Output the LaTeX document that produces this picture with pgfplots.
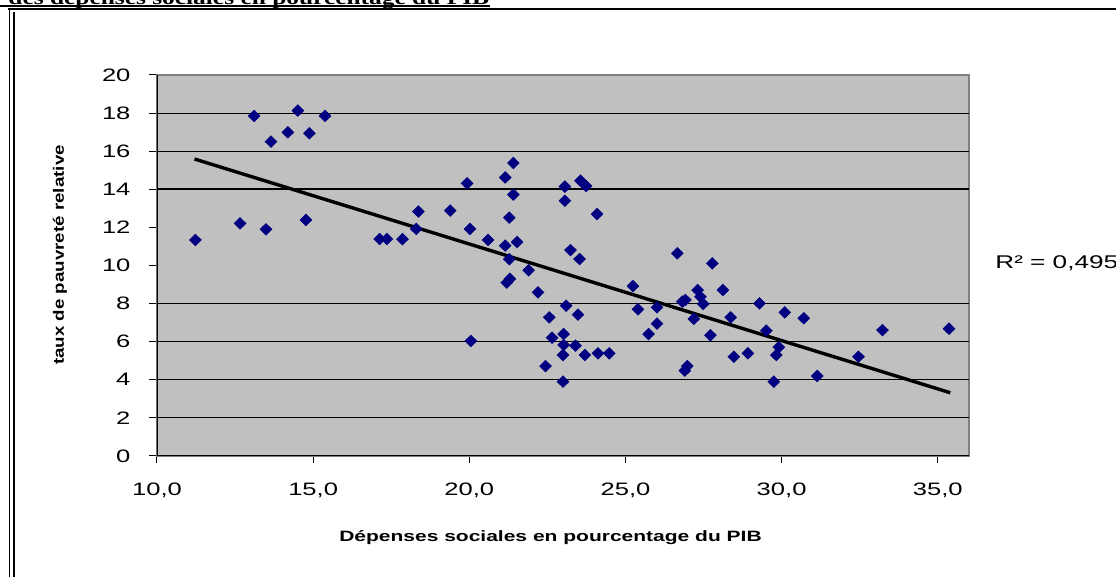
\documentclass[border=0pt]{standalone}
\usepackage{fontspec}
\setmainfont{Liberation Sans}
\newfontfamily\tickfont{Liberation Sans}[FakeStretch=1.42]
\newfontfamily\xlabfont{Liberation Sans}[FakeStretch=1.4]
\newfontfamily\ylabfont{Liberation Sans}[FakeStretch=1.25]
\newfontfamily\titlefont{Liberation Serif}[FakeStretch=1.27]
\usepackage{pgfplots}
\pgfplotsset{compat=1.18}
\definecolor{plotbg}{RGB}{192,192,192}
\definecolor{marknavy}{RGB}{0,0,128}
\definecolor{frame}{RGB}{128,128,128}

\begin{document}
\begin{tikzpicture}
\useasboundingbox (0,0) rectangle (558pt,288.5pt);
\clip (0,0) rectangle (558pt,288.5pt);

% page frame and heading (partly cut by the page top)
\node[anchor=base west, inner sep=0pt, font=\titlefont\bfseries\fontsize{10}{12}\selectfont]
  at (4pt,286.3pt) {des dépenses sociales en pourcentage du PIB};
\draw[line width=1pt] (0,285.3pt) -- (245pt,285.3pt);
\draw[line width=1pt] (4pt,283.8pt) -- (558pt,283.8pt);
\draw[line width=0.8pt] (4.75pt,283.8pt) -- (4.75pt,0);
\draw[line width=0.8pt] (6.9pt,282.4pt) -- (6.9pt,0);

\begin{axis}[
  scale only axis,
  width=406pt, height=190.5pt,
  at={(78.5pt,60.5pt)}, anchor=south west,
  xmin=10, xmax=36, ymin=0, ymax=20,
  xtick={10,15,...,35},
  ytick={0,2,...,20},
  tick pos=left,
  tick align=outside,
  major tick length=3.75pt,
  tick style={black, line width=0.5pt},
  axis line style={draw=frame, line width=0.6pt},
  axis background/.style={fill=plotbg},
  /pgf/number format/assume math mode=true,
  ticklabel style={font=\tickfont\fontsize{9}{10}\selectfont},
  xticklabel style={yshift=-6pt, /pgf/number format/.cd, fixed, fixed zerofill, precision=1, use comma},
  yticklabel style={xshift=-6pt},
  extra y ticks={2,4,6,8,16,18},
  extra y tick labels={},
  extra y tick style={grid=major, tick style={draw=none}},
  major grid style={black, line width=0.55pt},
  xlabel={Dépenses sociales en pourcentage du PIB},
  ylabel={taux de pauvreté relative},
  x label style={font=\xlabfont\bfseries\fontsize{7.5}{9}\selectfont,
    at={(axis description cs:0.4846,-0.2257)}, anchor=base},
  y label style={font=\ylabfont\bfseries\fontsize{7.5}{9}\selectfont,
    at={(axis description cs:-0.1195,0.5276)}, anchor=center},
]
\draw[black, line width=1pt] (axis cs:10,14) -- (axis cs:36,14);

\addplot[only marks, mark=diamond*, mark size=2.85pt,
  mark options={xscale=1.35, draw=marknavy, fill=marknavy}]
coordinates {
(11.23,11.34) (12.66,12.21) (13.11,17.85) (13.49,11.90) (13.65,16.50)
(14.19,16.99) (14.51,18.13) (14.77,12.39) (14.88,16.94) (15.38,17.85)
(17.13,11.39) (17.36,11.39) (17.86,11.38) (18.30,11.92) (18.37,12.83)
(19.39,12.88) (19.93,14.31) (20.02,11.92) (20.05,6.04) (20.60,11.34)
(21.15,14.62) (21.15,11.04) (21.28,12.51) (21.41,15.38) (21.41,13.72)
(21.53,11.23) (21.28,10.33) (21.20,9.10) (21.30,9.30) (21.90,9.75)
(22.20,8.59) (22.44,4.72) (22.56,7.28) (22.65,6.21) (23.02,6.40)
(23.02,5.83) (23.00,5.30) (23.00,3.90) (23.10,7.89) (23.06,14.14)
(23.06,13.40) (23.24,10.81) (23.40,5.79) (23.48,7.42) (23.53,10.34)
(23.56,14.45) (23.74,14.17) (23.70,5.30) (24.09,12.70) (24.12,5.39)
(24.48,5.39) (25.24,8.92) (25.40,7.70) (25.74,6.40) (26.01,7.80)
(26.01,6.95) (26.66,10.64) (26.82,8.10) (26.92,8.19) (26.98,4.72)
(26.90,4.48) (27.19,7.20) (27.31,8.71) (27.40,8.36) (27.49,7.98)
(27.72,6.34) (27.78,10.11) (28.12,8.71) (28.37,7.28) (28.47,5.21)
(28.92,5.39) (29.29,8.01) (29.51,6.58) (29.75,3.90) (29.83,5.30)
(29.91,5.71) (30.10,7.54) (30.71,7.23) (31.14,4.20) (32.46,5.21)
(33.23,6.61) (35.36,6.68)
};

% linear trend
\addplot[black, line width=1.7pt] coordinates {(11.2,15.59) (35.4,3.32)};

\draw[black, line width=1pt] (rel axis cs:0,1) -- (rel axis cs:0,0) -- (rel axis cs:1,0);
\end{axis}

\node[anchor=base west, inner sep=0pt, font=\tickfont\fontsize{9.2}{11}\selectfont]
  at (497.5pt,154pt) {R² = 0,495};
\end{tikzpicture}
\end{document}
